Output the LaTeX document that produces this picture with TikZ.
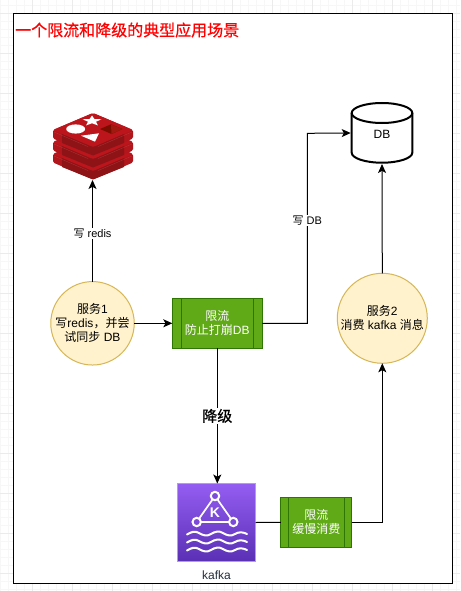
\documentclass[tikz,border=0pt]{standalone}
\usepackage{fontspec}
\setmainfont{Liberation Sans}
\newfontfamily\cjk{Noto Sans CJK SC}
\newfontfamily\cjkb[FakeBold=0.6]{Noto Sans CJK SC}
\usetikzlibrary{arrows.meta,calc}
\newcommand{\zh}[1]{{\cjk #1}}
\definecolor{gridmajor}{HTML}{EBEBEB}
\definecolor{gridminor}{HTML}{F7F7F7}
\definecolor{svcfill}{HTML}{FFF2CC}
\definecolor{svcline}{HTML}{D6B656}
\definecolor{limfill}{HTML}{60A917}
\definecolor{limline}{HTML}{2D7600}
\definecolor{redtop}{HTML}{BC151B}
\definecolor{redside}{HTML}{B0161B}
\definecolor{reddark}{HTML}{8E1317}
\definecolor{redlight}{HTML}{D9716C}
\definecolor{redsqa}{HTML}{7A0C00}
\definecolor{redsqb}{HTML}{A01A10}
\definecolor{kafkatop}{HTML}{945DF2}
\definecolor{kafkabot}{HTML}{5A30B5}
\definecolor{kafkaline}{HTML}{B795F0}
\definecolor{kafkatext}{HTML}{232F3E}
\tikzset{
  txt/.style={font=\fontsize{12}{14}\selectfont, align=center, inner sep=0pt},
  service/.style={circle, draw=svcline, fill=svcfill, line width=1pt, inner sep=0pt, outer sep=0pt, text=black, align=center, font=\fontsize{12}{14}\selectfont},
  limiter/.style={rectangle, draw=limline, fill=limfill, line width=1pt, inner sep=0pt, outer sep=0pt, text=white, align=center, font=\fontsize{12}{14}\selectfont},
  link/.style={line width=1pt, draw=black, -{Stealth[length=9pt,width=8pt,inset=2.2pt]}},
  plainlink/.style={line width=1pt, draw=black},
  edgelabel/.style={fill=white, inner sep=1pt, font=\fontsize{11}{13}\selectfont, text=black},
  wave/.style={draw=white, line width=2pt, line cap=round}
}
\begin{document}
\begin{tikzpicture}[x=1pt,y=-1pt]
\useasboundingbox (0,0) rectangle (460,591);
\fill[white] (0,0) rectangle (460,591);
% background grid
\begin{scope}
\clip (0,0) rectangle (460,591);
\foreach \gx in {0,8,...,456} {\draw[gridminor,line width=.8pt] (\gx,0) -- (\gx,591);}
\foreach \gy in {5,13,...,589} {\draw[gridminor,line width=.8pt] (0,\gy) -- (460,\gy);}
\foreach \gx in {32,72,...,432} {\draw[gridmajor,line width=.8pt] (\gx,0) -- (\gx,591);}
\foreach \gy in {13,53,...,573} {\draw[gridmajor,line width=.8pt] (0,\gy) -- (460,\gy);}
\end{scope}
% frame
\draw[black,fill=white,line width=1pt] (13.5,13.5) rectangle (452.5,583.5);
% title
\node[anchor=west, inner sep=0pt, text=red] (title) at (15,30) {\cjkb\fontsize{16}{18}\selectfont 一个限流和降级的典型应用场景};
% redis icon
\node[minimum width=80pt, minimum height=66pt, inner sep=0pt, outer sep=0pt] (redis) at (93,146) {};
\foreach \lay in {24,12,0} {
  \begin{scope}[yshift=-\lay pt]
    \fill[redside,rounded corners=1.5pt] (53,130) -- (93,113) -- (133,130) -- (133,138.5) -- (93,155.5) -- (53,138.5) -- cycle;
    \fill[reddark] (62,133) -- (93,147) -- (124,133) -- (124,143) -- (93,155.5) -- (62,143) -- cycle;
    \fill[redtop,rounded corners=2pt] (53,130) -- (93,113) -- (133,130) -- (93,147) -- cycle;
    \draw[redlight,line width=.3pt,opacity=.35] (54,132) -- (88,146.6) (98,146.6) -- (132,132);
  \end{scope}
}
\fill[white] (75.7,129) ellipse [x radius=9.5pt, y radius=4.6pt];
\fill[white] (92,115.5) -- (94.5,119.1) -- (101.5,119.3) -- (96,121.7) -- (97.9,125.4) -- (92,123.3) -- (86.1,125.4) -- (88,121.7) -- (82.5,119.3) -- (89.5,119.1) -- cycle;
\fill[white] (81,135.7) -- (99,133.3) -- (95,141.7) -- cycle;
\fill[redsqa] (100,129) -- (111,124.3) -- (122.3,129) -- (111.5,134) -- cycle;
\fill[redsqb] (111,124.3) -- (122.3,129) -- (111.5,134) -- cycle;
% kafka icon
\node[rectangle, draw=kafkaline, line width=1pt, top color=kafkatop, bottom color=kafkabot, minimum width=78pt, minimum height=78pt, inner sep=0pt, outer sep=0pt] (kafka) at (216.5,522.5) {};
\draw[white,line width=1.7pt,line join=round] (215,496) -- (196.7,522) -- (233.3,522) -- cycle;
\foreach \cx/\cy in {215/496,196.7/522,233.3/522} {
  \draw[white,line width=2pt,fill=kafkatop!60!kafkabot] (\cx,\cy) circle [radius=4.2pt];
}
\node[text=white, inner sep=0pt, font=\fontsize{14}{15}\selectfont\bfseries] (kafkak) at (215,513) {K};
\foreach \wy in {533,541,549} {
  \draw[wave] (187,\wy+1.5) .. controls (191,\wy-1) and (195,\wy-2.5) .. (199,\wy)
    .. controls (203,\wy+2.5) and (207,\wy+3.5) .. (211,\wy+1)
    .. controls (215,\wy-1.5) and (219,\wy-2.5) .. (223,\wy)
    .. controls (227,\wy+2.5) and (231,\wy+3.5) .. (235,\wy+1)
    .. controls (239,\wy-1.5) and (243,\wy-1) .. (247,\wy+1);
}
\node[txt, text=kafkatext] (kafkalabel) at (216.5,575) {kafka};
% database
\node[minimum width=60.6pt, minimum height=60pt, inner sep=0pt, outer sep=1pt] (db) at (382,133) {};
\draw[black,line width=2pt,fill=white] (351.7,113) arc [start angle=180, end angle=360, x radius=30.3pt, y radius=-10pt] -- (412.3,152.7) arc [start angle=0, end angle=180, x radius=30.3pt, y radius=-10pt] -- cycle;
\draw[black,line width=2pt] (351.7,113) arc [start angle=180, end angle=360, x radius=30.3pt, y radius=10pt];
\node[txt] (dblabel) at (382,134) {DB};
% services
\node[service, minimum size=80pt] (svc1) at (92.5,323.3) {\zh{服务}1\\\zh{写}redis\zh{，并尝}\\\zh{试同步} DB};
\node[service, minimum size=90pt] (svc2) at (382.3,318.3) {\zh{服务}2\\\zh{消费} kafka \zh{消息}};
% limiters
\node[limiter, minimum width=90pt, minimum height=50pt] (lim1) at (217.3,323.3) {\zh{限流}\\\zh{防止打崩}DB};
\draw[limline,line width=1pt] (181.7,298.3) -- (181.7,348.3) (253.3,298.3) -- (253.3,348.3);
\node[limiter, minimum width=70.7pt, minimum height=50pt] (lim2) at (316.3,522.3) {\zh{限流}\\\zh{缓慢消费}};
\draw[limline,line width=1pt] (288.3,497.3) -- (288.3,547.3) (344.3,497.3) -- (344.3,547.3);
% connector corners
\coordinate (turnA) at (307.3,323.3);
\coordinate (turnB) at (307.3,133.3);
\coordinate (turnC) at (382.3,522.3);
\coordinate (redisin) at (92.5,180);
% connectors
\draw[link] (svc1.north) -- node[edgelabel,pos=.475] (lblredis) {\zh{写} redis} (redisin);
\draw[link] (svc1.east) -- (lim1.west);
\draw[link] (lim1.east) -- (turnA) -- node[edgelabel,pos=.54] (lbldb) {\zh{写} DB} (turnB) -- (db.west);
\draw[link] (lim1.south) -- node[pos=.5, fill=white, inner sep=1pt] (lbldown) {\cjkb\fontsize{15}{17}\selectfont 降级} (lim1.south |- kafka.north);
\draw[plainlink] (kafka.east) -- (lim2.west);
\draw[link] (lim2.east) -- (turnC) -- (svc2.south);
\draw[link] (svc2.north) -- (db.south);
\end{tikzpicture}
\end{document}
